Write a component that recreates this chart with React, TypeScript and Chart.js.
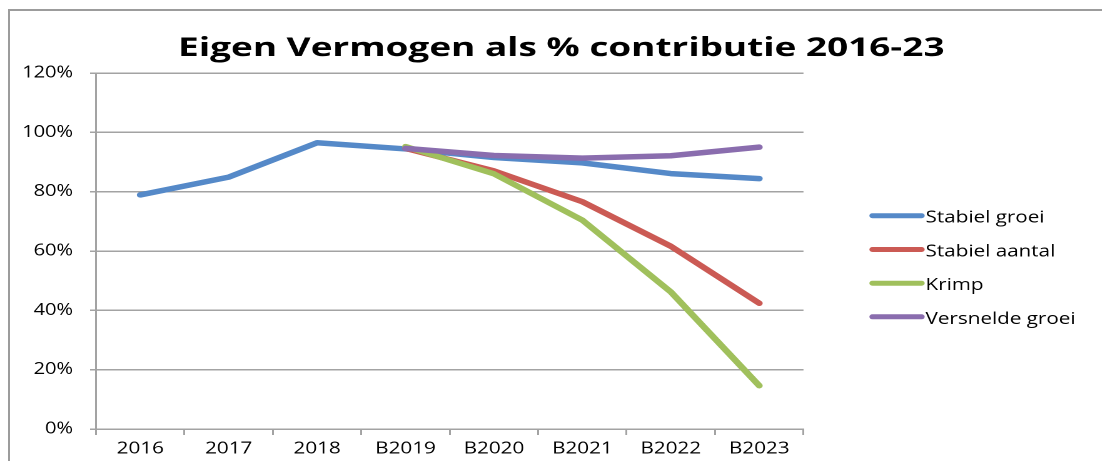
import React, { useEffect, useRef } from "react";
import { Chart, registerables } from "chart.js";

Chart.register(...registerables);

const categories = ["2016", "2017", "2018", "B2019", "B2020", "B2021", "B2022", "B2023"];
const stabielGroei = [78.9, 84.9, 96.5, 94.4, 91.5, 89.7, 86.1, 84.4];
const stabielAantal = [null, null, null, 94.6, 87.0, 76.6, 61.6, 42.4];
const krimp = [null, null, null, 95.2, 86.0, 70.4, 46.2, 14.6];
const versneldeGroei = [null, null, null, 94.6, 92.2, 91.3, 92.1, 95.0];
const seriesNames = ["Stabiel groei", "Stabiel aantal", "Krimp", "Versnelde groei"];
const yTicks = [0, 20, 40, 60, 80, 100, 120];
const titleText = "Eigen Vermogen als % contributie 2016-23";

const COLORS = ["#5589C8", "#CB5A54", "#A0C05C", "#8A6DAE"];
const S = 1.25; // horizontal stretch
const W = 1102 / S;
const H = 461;
const FONT = "'Open Sans', 'Noto Sans', sans-serif";

const overlayPlugin = {
  id: "overlay",
  afterDraw(chart: any) {
    const ctx = chart.ctx;
    ctx.save();
    // title
    ctx.font = `bold 26px ${FONT}`;
    ctx.fillStyle = "#000";
    ctx.textAlign = "center";
    ctx.textBaseline = "alphabetic";
    const tw = ctx.measureText(titleText).width;
    const k = 766 / S / tw;
    ctx.save();
    ctx.translate(561 / S, 56);
    ctx.scale(k, 1);
    ctx.fillText(titleText, 0, 0);
    ctx.restore();
    // legend
    const ys = [215.7, 249.5, 283.2, 316.8];
    chart.data.datasets.forEach((ds: any, i: number) => {
      const y = ys[i];
      ctx.strokeStyle = ds.borderColor;
      ctx.lineWidth = 5;
      ctx.lineCap = "round";
      ctx.beginPath();
      ctx.moveTo(872 / S, y);
      ctx.lineTo(921 / S, y);
      ctx.stroke();
      ctx.font = `16.5px ${FONT}`;
      ctx.fillStyle = "#000";
      ctx.textAlign = "left";
      ctx.fillText(ds.label, 925 / S, y + 7);
    });
    ctx.restore();
  },
};

export default function App() {
  const ref = useRef<HTMLCanvasElement>(null);
  useEffect(() => {
    if (!ref.current) return;
    const data = [stabielGroei, stabielAantal, krimp, versneldeGroei];
    const chart = new Chart(ref.current, {
      type: "line",
      data: {
        labels: categories,
        datasets: data.map((d, i) => ({
          label: seriesNames[i],
          data: d,
          borderColor: COLORS[i],
          backgroundColor: COLORS[i],
          borderWidth: 5.5,
          borderCapStyle: "round",
          borderJoinStyle: "round",
          pointRadius: 0,
          pointHoverRadius: 0,
          tension: 0,
          fill: false,
          spanGaps: false,
          order: 4 - i,
        })),
      },
      options: {
        animation: false,
        responsive: true,
        maintainAspectRatio: false,
        devicePixelRatio: 2,
        layout: { padding: { left: 0, top: 73, right: W - 803 / S, bottom: 0 } },
        plugins: {
          legend: { display: false },
          title: { display: false },
          tooltip: { enabled: false },
        },
        scales: {
          x: {
            type: "category",
            offset: true,
            grid: {
              offset: true,
              drawOnChartArea: false,
              drawTicks: true,
              tickLength: 6,
              color: "#a3a3a3",
              lineWidth: 1.5,
            },
            border: { display: true, color: "#a3a3a3", width: 1.5 },
            ticks: {
              font: { family: FONT, size: 16.5 },
              color: "#000",
              padding: 4,
              maxRotation: 0,
              autoSkip: false,
            },
            afterFit(scale: any) {
              scale.height = H - 429;
            },
          },
          y: {
            min: 0,
            max: 120,
            afterBuildTicks(scale: any) {
              scale.ticks = yTicks.map((v) => ({ value: v }));
            },
            grid: {
              color: "#a3a3a3",
              lineWidth: 1.5,
              drawTicks: true,
              tickLength: 6 / S,
            },
            border: { display: true, color: "#a3a3a3", width: 1.5 },
            ticks: {
              font: { family: FONT, size: 16 },
              color: "#000",
              padding: (96 - 6 - 73) / S,
              callback: (v: any) => v + "%",
            },
            afterFit(scale: any) {
              scale.width = 96 / S;
            },
          },
        },
      },
      plugins: [overlayPlugin],
    } as any);
    return () => chart.destroy();
  }, []);

  return (
    <>
      <div
        style={{
          position: "absolute",
          left: 8,
          top: 9,
          width: 1102 - 8,
          height: 461 - 9,
          boxSizing: "border-box",
          borderLeft: "2px solid #9c9c9c",
          borderTop: "2px solid #9c9c9c",
        }}
      />
      <div
        style={{
          position: "absolute",
          left: 0,
          top: 0,
          width: W,
          height: H,
          transform: `scaleX(${S})`,
          transformOrigin: "0 0",
        }}
      >
        <canvas ref={ref} />
      </div>
    </>
  );
}
